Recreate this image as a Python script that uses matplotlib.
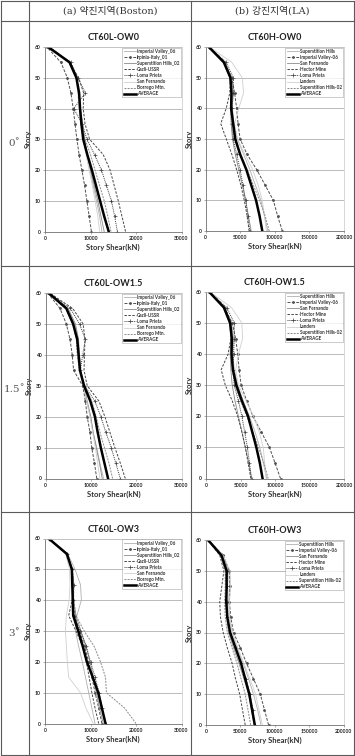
import numpy as np
import matplotlib
matplotlib.use("Agg")
import matplotlib.pyplot as plt
from matplotlib.lines import Line2D

W, H = 355, 756

stories = [0, 5, 10, 15, 20, 25, 30, 35, 40, 45, 50, 55, 60]

names_L = ["Imperial Valley_06", "Irpinia-Italy_01", "Superstition Hills_02", "Gazli-USSR",
           "Loma Prieta", "San Fernando", "Borrego Mtn.", "AVERAGE"]
names_H = ["Superstition Hills", "Imperial Valley-06", "San Fernando", "Hector Mine",
           "Loma Prieta", "Landers", "Superstition Hills-02", "AVERAGE"]

# story shear (kN) at each story level
L_ow0 = [
    [12500, 12000, 11300, 10600, 9900, 9200, 8600, 8000, 7600, 7300, 6900, 5400, 700],
    [10200, 9700, 9200, 8700, 8100, 7500, 7000, 6600, 6200, 5700, 4900, 3500, 400],
    [13000, 12300, 11600, 10800, 10000, 9300, 8700, 8300, 7800, 7400, 7000, 5600, 800],
    [17700, 16900, 16100, 15200, 14300, 12800, 9800, 8800, 8400, 8500, 7400, 5300, 800],
    [15900, 15300, 14600, 13500, 12400, 10900, 9200, 8200, 6300, 8900, 7200, 5700, 900],
    [12000, 11600, 11000, 10400, 9700, 9000, 8400, 7900, 7500, 7200, 6800, 5300, 700],
    [14500, 13800, 13000, 12000, 11000, 10000, 8800, 8200, 7700, 7400, 7000, 5500, 800],
    [14000, 13000, 12100, 11200, 10300, 9300, 8400, 8000, 7700, 7500, 6900, 5400, 700],
]
H_ow0 = [
    [90000, 85000, 80000, 72000, 64000, 55000, 46000, 41000, 39000, 40000, 38000, 28000, 5000],
    [111000, 104000, 98000, 86000, 74000, 60000, 50000, 47000, 45000, 42000, 38000, 27000, 5000],
    [66000, 62000, 58000, 53000, 48000, 43000, 39000, 37000, 36000, 37000, 35000, 26000, 4500],
    [63000, 60000, 56000, 51000, 45000, 38000, 30000, 22000, 30000, 35000, 36000, 27000, 5000],
    [64000, 61000, 58000, 54000, 50000, 45000, 40000, 38000, 38000, 40000, 40000, 30000, 5500],
    [88000, 85000, 82000, 76000, 68000, 57000, 46000, 42000, 48000, 55000, 53000, 38000, 6000],
    [92000, 86000, 78000, 69000, 60000, 50000, 42000, 39000, 37000, 38000, 37000, 28000, 5000],
    [82000, 78000, 73000, 66000, 59000, 50000, 43000, 40000, 37000, 37500, 36000, 26500, 4800],
]
L_ow15 = [
    [12800, 12000, 11300, 10500, 9900, 9100, 8400, 7600, 7400, 7200, 6400, 4900, 700],
    [11300, 10800, 10200, 9800, 9200, 8800, 8200, 6200, 5900, 5400, 4600, 3200, 500],
    [12500, 11900, 11200, 10500, 10000, 9200, 8500, 7800, 7500, 7300, 6600, 5000, 700],
    [17600, 16500, 15300, 14200, 13100, 11800, 9200, 8500, 8600, 8700, 8300, 6000, 900],
    [16500, 15500, 14500, 13300, 12200, 10900, 8600, 7700, 8200, 8800, 7500, 5500, 800],
    [12000, 11500, 11000, 10400, 9800, 9100, 8400, 7600, 7200, 7000, 6200, 4700, 700],
    [14800, 14000, 13000, 12000, 11200, 10200, 8700, 7500, 7000, 6800, 6000, 4500, 700],
    [13800, 13000, 12200, 11500, 10900, 9900, 8500, 7600, 7300, 7000, 6100, 4600, 700],
]
H_ow15 = [
    [88000, 83000, 78000, 71000, 63000, 54000, 46000, 41000, 39000, 40000, 37000, 27000, 5000],
    [108000, 100000, 92000, 80000, 68000, 59000, 51000, 48000, 46000, 43000, 38000, 27000, 5000],
    [66000, 62000, 57000, 52000, 47000, 42000, 38000, 36000, 35000, 36000, 34000, 25000, 4500],
    [65000, 61000, 57000, 52000, 46000, 38000, 28000, 22000, 32000, 36000, 36000, 27000, 5000],
    [66000, 63000, 60000, 56000, 52000, 47000, 41000, 39000, 40000, 41000, 41000, 30000, 5500],
    [87000, 85000, 83000, 77000, 69000, 58000, 47000, 43000, 47000, 53000, 52000, 37000, 6000],
    [90000, 84000, 76000, 68000, 59000, 50000, 42000, 38000, 37000, 38000, 36000, 27000, 5000],
    [82000, 78000, 73000, 67000, 61000, 52000, 44000, 39000, 37000, 37500, 35000, 26000, 4800],
]
L_ow3 = [
    [11000, 10300, 9600, 8900, 8200, 7400, 6700, 7000, 8000, 7800, 6600, 5000, 800],
    [12500, 11800, 11000, 10300, 9600, 8700, 7600, 6500, 6100, 6200, 6000, 4800, 800],
    [12800, 12000, 11300, 10600, 9900, 9000, 7900, 6800, 6300, 6300, 6000, 4800, 800],
    [11800, 11000, 10300, 9700, 9100, 8300, 6800, 5200, 6000, 6200, 5900, 4700, 800],
    [13300, 12600, 11900, 11000, 10000, 9100, 7800, 6300, 6200, 6300, 6000, 4900, 800],
    [10600, 9000, 7800, 5200, 4900, 4700, 4500, 4700, 5300, 5500, 5400, 4500, 800],
    [20000, 17500, 13500, 13300, 12200, 10800, 8600, 6800, 6300, 6300, 6000, 4800, 800],
    [13300, 12500, 11700, 10500, 9200, 8300, 7300, 6200, 6100, 6000, 5900, 4800, 800],
]
H_ow3 = [
    [80000, 75000, 69000, 62000, 54000, 46000, 38000, 34000, 33000, 34000, 33000, 24000, 3500],
    [91000, 85000, 79000, 69000, 59000, 50000, 40000, 36000, 34000, 35000, 34000, 25000, 3500],
    [70000, 66000, 62000, 55000, 48000, 40000, 33000, 30000, 29000, 30000, 30000, 22000, 3000],
    [57000, 53000, 49000, 43000, 38000, 31000, 25000, 21000, 20000, 23000, 26000, 20000, 3000],
    [71000, 68000, 64000, 58000, 51000, 43000, 35000, 31000, 30000, 31000, 31000, 23000, 3200],
    [82000, 77000, 72000, 64000, 55000, 46000, 38000, 34000, 34000, 36000, 35000, 25000, 3500],
    [65000, 61000, 57000, 51000, 45000, 38000, 31000, 28000, 27000, 28000, 28000, 21000, 3000],
    [71000, 67000, 63000, 57000, 51000, 43000, 35000, 31000, 29500, 30000, 30000, 22500, 3000],
]

titles = ["CT60L-OW0", "CT60H-OW0", "CT60L-OW1.5", "CT60H-OW1.5", "CT60L-OW3", "CT60H-OW3"]
row_labels = ["0˚", "1.5˚", "3˚"]
col_headers = ["(a) 약진지역(Boston)", "(b) 강진지역(LA)"]

# line styles for the 8 series (same order in both columns)
styles = [
    dict(color="#b0b0b0", lw=0.6, ls="-"),
    dict(color="#505050", lw=0.7, ls=(0, (3, 1.5)), marker=".", ms=2),
    dict(color="#8a8a8a", lw=0.6, ls="-"),
    dict(color="#454545", lw=0.7, ls=(0, (2.5, 1.5))),
    dict(color="#404040", lw=0.7, ls=(0, (1, 1)), marker="+", ms=2.5, mew=0.5),
    dict(color="#d0d0d0", lw=0.6, ls="-"),
    dict(color="#8a8a8a", lw=0.7, ls=(0, (2, 1.2))),
    dict(color="black", lw=1.8, ls="-"),
]

font = "Lato"
fig = plt.figure(figsize=(W / 100, H / 100), dpi=100)


def fx(px):
    return px / W


def fy(py):
    return 1 - py / H


def add_chart(left, right, top, bottom, data, names, title, xmax, xstep):
    ax = fig.add_axes([fx(left), fy(bottom), fx(right - left), (bottom - top) / H])
    for vals, name, st in zip(data, names, styles):
        ax.plot(vals, stories, label=name, **st)
    ax.set_xlim(0, xmax)
    ax.set_ylim(0, 60)
    ax.set_xticks(np.arange(0, xmax + 1, xstep))
    ax.set_yticks(np.arange(0, 61, 10))
    ax.yaxis.grid(True, color="#a0a0a0", lw=0.5)
    ax.set_axisbelow(True)
    for s in ["left", "bottom"]:
        ax.spines[s].set_color("#707070")
        ax.spines[s].set_linewidth(0.6)
    for s in ["top", "right"]:
        ax.spines[s].set_color("#c8c8c8")
        ax.spines[s].set_linewidth(0.5)
    ax.tick_params(labelsize=3.6, length=1.5, width=0.4, pad=1.5, colors="#707070",
                   labelcolor="#222222")
    for lab in ax.get_xticklabels() + ax.get_yticklabels():
        lab.set_fontfamily(font)
        lab.set_fontweight("bold")
    ax.set_title(title, fontsize=6.5, fontweight="bold", family=font, color="#222222", pad=5)
    ax.set_xlabel("Story Shear(kN)", fontsize=5.5, fontweight="bold", family=font,
                  color="#333333", labelpad=2)
    ax.set_ylabel("Story", fontsize=5.5, fontweight="bold", family=font,
                  color="#333333", labelpad=2)
    leg = ax.legend(loc="upper right", fontsize=3.3, frameon=True, fancybox=False,
                    borderaxespad=0.15, labelspacing=0.22, borderpad=0.3,
                    handlelength=2.6, handletextpad=0.3, prop=dict(family=font, weight="bold", size=3.3))
    leg.get_frame().set_edgecolor("#909090")
    leg.get_frame().set_linewidth(0.4)
    for t in leg.get_texts():
        t.set_color("#333333")
    return ax


charts = [
    (45, 181.5, 47, 231.5, L_ow0, names_L, titles[0], 30000, 10000),
    (205.5, 344, 47, 231, H_ow0, names_H, titles[1], 200000, 50000),
    (45.5, 181.5, 293, 478.5, L_ow15, names_L, titles[2], 30000, 10000),
    (206, 344, 292, 478.5, H_ow15, names_H, titles[3], 200000, 50000),
    (45, 181.5, 538.5, 723.5, L_ow3, names_L, titles[4], 30000, 10000),
    (206, 343.5, 540, 725, H_ow3, names_H, titles[5], 200000, 50000),
]
for c in charts:
    add_chart(*c)

# table grid
lc = "#5a5a5a"
for py in [0.6, 21, 265.7, 512, 755.4]:
    fig.add_artist(Line2D([fx(1), fx(353.5)], [fy(py), fy(py)], color=lc, lw=0.8))
for px in [1, 28.7, 191, 353.5]:
    fig.add_artist(Line2D([fx(px), fx(px)], [fy(0.6), fy(755.4)], color=lc, lw=0.8))

head_font = ["DejaVu Serif", "Noto Sans CJK KR"]
fig.text(fx(110), fy(10.8), col_headers[0], ha="center", va="center", fontsize=7,
         family=head_font, color="#333333")
fig.text(fx(272), fy(10.8), col_headers[1], ha="center", va="center", fontsize=7,
         family=head_font, color="#333333")
for lab, py in zip(row_labels, [143, 389, 633]):
    fig.text(fx(14.5), fy(py), lab, ha="center", va="center", fontsize=7.5,
             family="DejaVu Serif", color="#555555")

fig.savefig("out.png", dpi=100)
